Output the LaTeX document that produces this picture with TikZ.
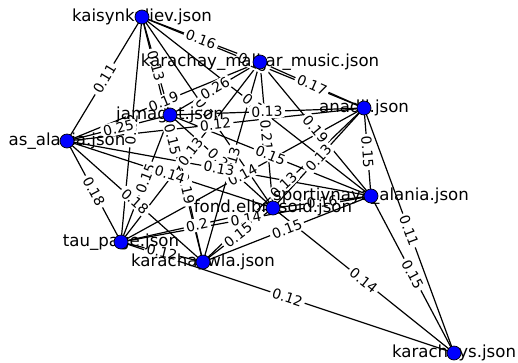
\documentclass[tikz,border=0pt]{standalone}
\usepackage{fontspec}
\setmainfont{DejaVu Sans}
\begin{document}
\begin{tikzpicture}[x=1pt,y=-1pt,
  edge/.style={draw=black,line width=1.2pt},
  elab/.style={fill=white,text=black,inner xsep=2.5pt,inner ysep=1.5pt,rounded corners=3pt,
    font=\fontsize{13.9}{14}\selectfont,sloped,midway},
  vlab/.style={text=black,inner sep=0pt,font=\fontsize{16.6}{17}\selectfont},
  vtx/.style={circle,draw=black,fill=blue,line width=0.7pt,minimum size=14pt,inner sep=0pt}]
\useasboundingbox (0,0) rectangle (518,362);
\coordinate (K) at (142,17);
\coordinate (M) at (260,62);
\coordinate (J) at (170,115);
\coordinate (A) at (364,108);
\coordinate (AS) at (67,141);
\coordinate (S) at (371,196);
\coordinate (F) at (273,208);
\coordinate (T) at (121,242);
\coordinate (KW) at (203,262);
\coordinate (KS) at (454,353);
\def\edgelist{K/AS/0.11, K/M/0.16, K/A/0.15, K/J/0.13, K/T/0.12, K/F/0.13, K/S/0.12, K/KW/0.15,
  M/AS/0.19, M/J/0.26, M/A/0.17, M/S/0.19, M/F/0.21, M/T/0.13, M/KW/0.13,
  J/AS/0.25, J/A/0.13, J/S/0.15, J/F/0.21, J/T/0.15, J/KW/0.19,
  A/AS/0.12, A/S/0.15, A/F/0.13, A/KW/0.13, A/T/0.14, A/KS/0.11,
  AS/S/0.13, AS/F/0.14, AS/T/0.18, AS/KW/0.18,
  S/F/0.16, S/T/0.14, S/KW/0.15, S/KS/0.15,
  F/T/0.2, F/KW/0.15, F/KS/0.14, T/KW/0.12, T/KS/0.12}
\foreach \a/\b/\w in \edgelist { \draw[edge] (\a) -- (\b); }
\foreach \a/\b/\w in \edgelist { \path (\a) -- node[elab] {\w} (\b); }
\node[vlab] (lK) at (K) {kaisynkuliev.json};
\node[vlab] (lM) at (M) {karachay\_malkar\_music.json};
\node[vlab] (lJ) at (J) {jamagat.json};
\node[vlab] (lA) at (A) {anadil.json};
\node[vlab] (lAS) at (AS) {as\_alania.json};
\node[vlab] (lS) at (S) {sportivnaya\_alania.json};
\node[vlab] (lF) at (F) {fond.elbrusoid.json};
\node[vlab] (lT) at (T) {tau\_page.json};
\node[vlab] (lKW) at (KW) {karachaywla.json};
\node[vlab] (lKS) at (KS) {karachays.json};
\foreach \n in {K,M,J,A,AS,S,F,T,KW,KS} { \node[vtx] (n\n) at (\n) {}; }
\end{tikzpicture}
\end{document}
